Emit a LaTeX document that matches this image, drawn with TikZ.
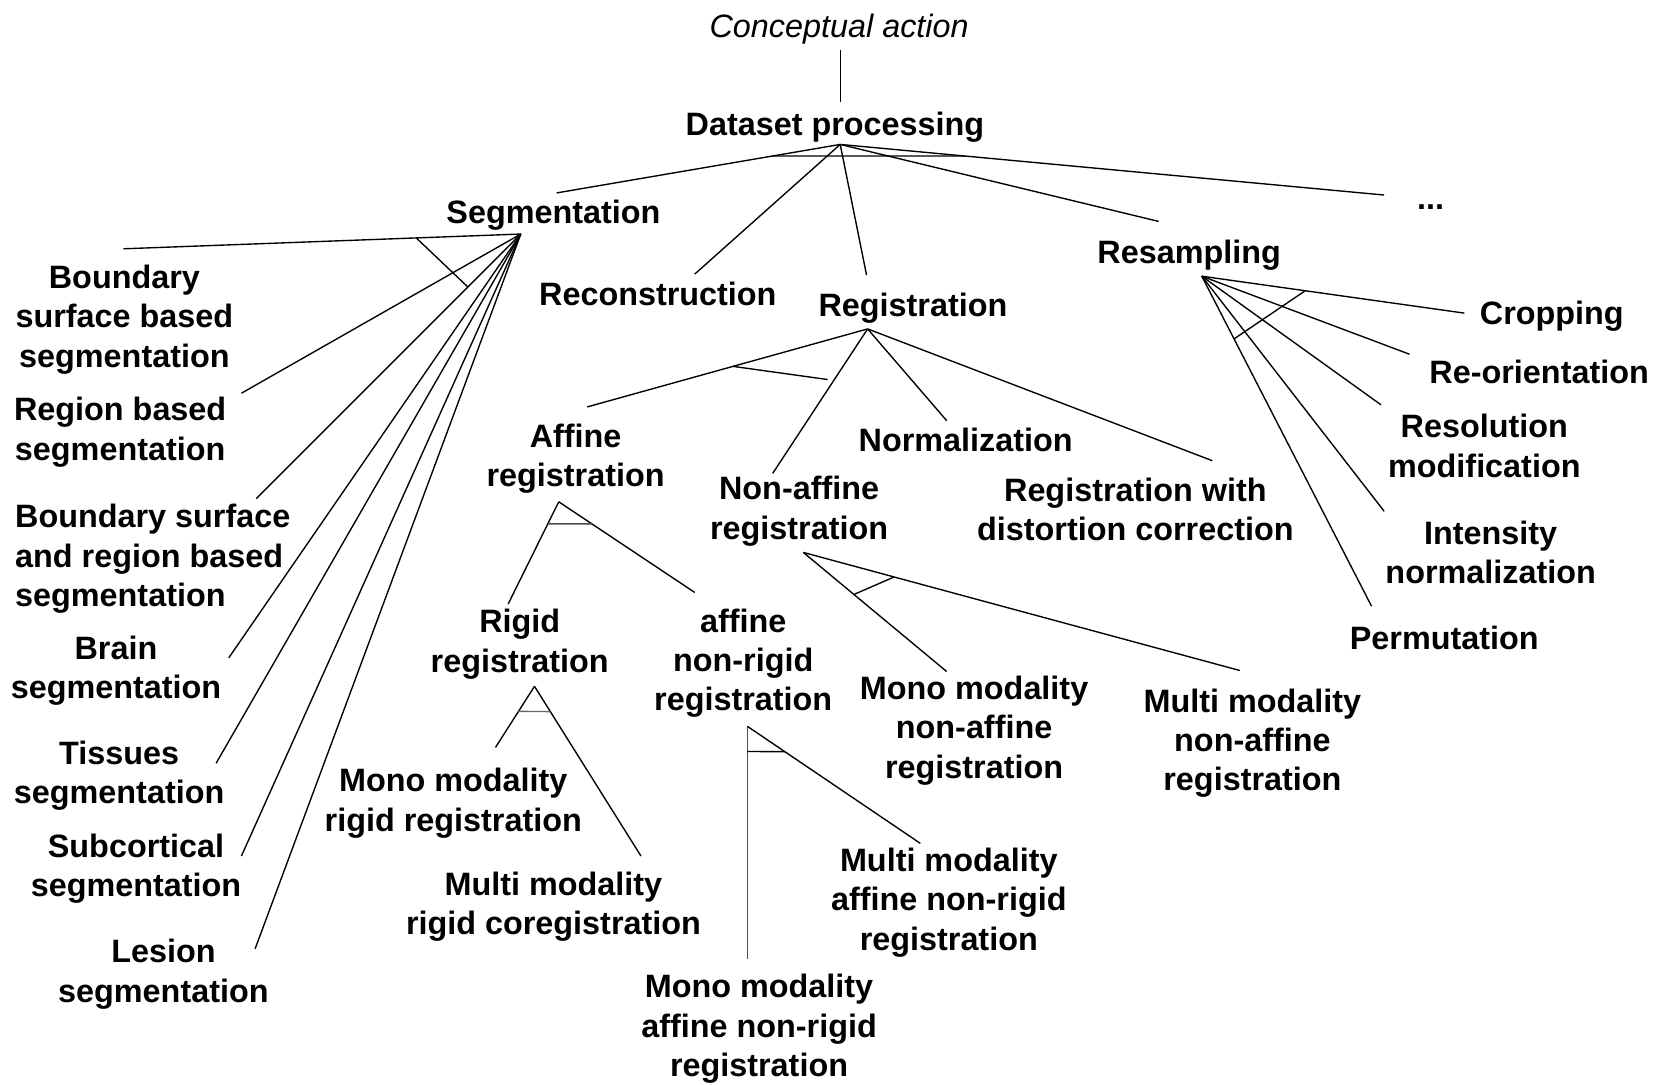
\documentclass[tikz,border=0pt]{standalone}
\usepackage{fontspec}
\setmainfont{Liberation Sans}
\usetikzlibrary{calc}
\begin{document}
\begin{tikzpicture}[x=0.5pt,y=-0.5pt,
  lbl/.style={font=\fontsize{15.35}{18.65}\selectfont\bfseries,align=center,inner sep=0pt},
  edge/.style={line width=0.65pt,black},
  xbar/.style={line width=0.65pt,black}]
\useasboundingbox (0,0) rectangle (1568,1029);

% ---- labels ----
\begin{scope}[yshift=-1.5pt]
\node[lbl,font=\fontsize{15.35}{18.65}\selectfont\itshape] (concept) at (796,25) {Conceptual action};
\node[lbl] (dp) at (792,118) {Dataset processing};
\node[lbl] (seg) at (525,201) {Segmentation};
\node[lbl] (recon) at (624,276) {Reconstruction};
\node[lbl] (reg) at (866,289) {Registration};
\node[lbl] (resamp) at (1128,239) {Resampling};
\node[lbl,anchor=base] (dots) at (1357,196) {...};

\node[lbl] (bsb) at (118,300) {Boundary\\surface based\\segmentation};
\node[lbl] (rb) at (114,407) {Region based\\segmentation};
\node[lbl,align=left,anchor=west] (bsrb) at (14,527) {Boundary surface\\and region based\\segmentation};
\node[lbl] (brain) at (110,633) {Brain\\segmentation};
\node[lbl] (tiss) at (113,733) {Tissues\\segmentation};
\node[lbl] (subc) at (129,821) {Subcortical\\segmentation};
\node[lbl] (les) at (155,921) {Lesion\\segmentation};

\node[lbl] (aff) at (546,432) {Affine\\registration};
\node[lbl] (na) at (758,482) {Non-affine\\registration};
\node[lbl] (norm) at (916,414) {Normalization};
\node[lbl] (rd) at (1077,480) {Registration with\\distortion correction};

\node[lbl] (crop) at (1472,297) {Cropping};
\node[lbl] (reor) at (1460,350) {Re-orientation};
\node[lbl] (resol) at (1408,420) {Resolution\\modification};
\node[lbl] (inten) at (1414,521) {Intensity\\normalization};
\node[lbl] (perm) at (1370,602) {Permutation};

\node[lbl] (rigid) at (493,608) {Rigid\\registration};
\node[lbl] (anr) at (705,626) {affine\\non-rigid\\registration};
\node[lbl] (mmna) at (924,690) {Mono modality\\non-affine\\registration};
\node[lbl] (multna) at (1188,702) {Multi modality\\non-affine\\registration};
\node[lbl] (mmr) at (430,759) {Mono modality\\rigid registration};
\node[lbl] (multr) at (525,857) {Multi modality\\rigid coregistration};
\node[lbl] (multanr) at (900,853) {Multi modality\\affine non-rigid\\registration};
\node[lbl] (monoanr) at (720,973) {Mono modality\\affine non-rigid\\registration};
\end{scope}

% ---- connector ends ----
\coordinate (conceptOut) at (797,47);
\coordinate (dpIn) at (797,97);
\coordinate (dpFork) at (797,137);
\coordinate (segIn) at (528,183);
\coordinate (reconIn) at (659,260);
\coordinate (regIn) at (822,261);
\coordinate (resIn) at (1099,210);
\coordinate (dotsIn) at (1313,185);

\coordinate (segFork) at (494,222);
\coordinate (bsbIn) at (117,236);
\coordinate (rbIn) at (229,373);
\coordinate (bsrbIn) at (243,473);
\coordinate (brainIn) at (217,624);
\coordinate (tissIn) at (205,724);
\coordinate (subcIn) at (229,812);
\coordinate (lesIn) at (242,900);

\coordinate (regFork) at (823,312);
\coordinate (affIn) at (557,386);
\coordinate (naIn) at (733,449);
\coordinate (normIn) at (898,399);
\coordinate (rdIn) at (1150,437);
\coordinate (regBarEnd) at (785,360);

\coordinate (resFork) at (1140,262);
\coordinate (cropIn) at (1389,297);
\coordinate (reorIn) at (1337,336);
\coordinate (resolIn) at (1310,384);
\coordinate (intenIn) at (1313,485);
\coordinate (permIn) at (1301,575);

\coordinate (affFork) at (530,476);
\coordinate (rigidIn) at (482,573);
\coordinate (anrIn) at (659,562);

\coordinate (naFork) at (762,524);
\coordinate (mmnaIn) at (898,637);
\coordinate (multnaIn) at (1176,636);

\coordinate (rigFork) at (507,651);
\coordinate (mmrIn) at (470,709);
\coordinate (multrIn) at (608,812);

\coordinate (anrFork) at (709,689);
\coordinate (monoanrIn) at (709,910);
\coordinate (multanrIn) at (873,800);

% ---- connectors ----
\draw[edge] (conceptOut) -- (dpIn);
\foreach \c in {segIn,reconIn,regIn,resIn,dotsIn} \draw[edge] (dpFork) -- (\c);
\draw[xbar] ($(dpFork)!0.239!(segIn)$) -- ($(dpFork)!0.229!(dotsIn)$);

\foreach \c in {bsbIn,rbIn,bsrbIn,brainIn,tissIn,subcIn,lesIn} \draw[edge] (segFork) -- (\c);
\draw[xbar] ($(segFork)!0.263!(bsbIn)$) -- ($(segFork)!0.2!(bsrbIn)$);

\foreach \c in {affIn,naIn,normIn,rdIn} \draw[edge] (regFork) -- (\c);
\draw[xbar] ($(regFork)!0.48!(affIn)$) -- (regBarEnd);

\foreach \c in {cropIn,reorIn,resolIn,intenIn,permIn} \draw[edge] (resFork) -- (\c);
\draw[xbar] ($(resFork)!0.394!(cropIn)$) -- ($(resFork)!0.19!(permIn)$);

\foreach \c in {rigidIn,anrIn} \draw[edge] (affFork) -- (\c);
\draw[xbar,black!70] ($(affFork)!0.216!(rigidIn)$) -- ($(affFork)!0.244!(anrIn)$);

\foreach \c in {mmnaIn,multnaIn} \draw[edge] (naFork) -- (\c);
\draw[xbar] ($(naFork)!0.353!(mmnaIn)$) -- ($(naFork)!0.208!(multnaIn)$);

\foreach \c in {mmrIn,multrIn} \draw[edge] (rigFork) -- (\c);
\draw[xbar,black!60] ($(rigFork)!0.41!(mmrIn)$) -- ($(rigFork)!0.149!(multrIn)$);

\draw[edge,black!70] (anrFork) -- (monoanrIn);
\draw[edge] (anrFork) -- (multanrIn);
\draw[xbar] ($(anrFork)!0.108!(monoanrIn)$) -- ($(anrFork)!0.216!(multanrIn)$);
\end{tikzpicture}
\end{document}
